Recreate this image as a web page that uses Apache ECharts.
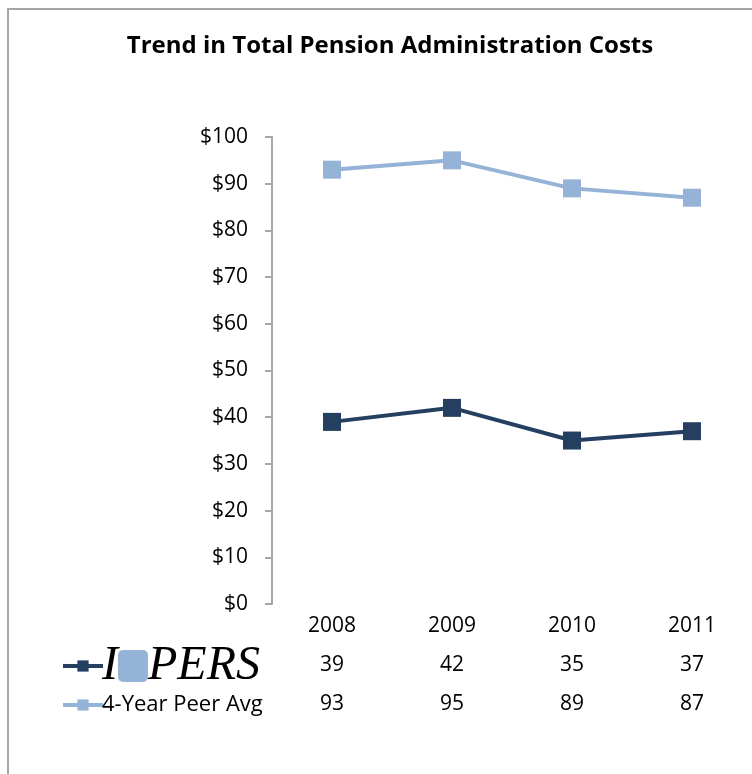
<!DOCTYPE html>
<html>
<head>
<meta charset="utf-8">
<script src="https://cdn.jsdelivr.net/npm/echarts@6/dist/echarts.min.js"></script>
<style>
  html, body { margin: 0; padding: 0; background: #fff; }
  #chart { width: 752px; height: 774px; }
</style>
</head>
<body>
<div id="chart"></div>
<script>
// chart data
const years = ['2008', '2009', '2010', '2011']
const ipersCosts = [39, 42, 35, 37]
const peerCosts = [93, 95, 89, 87]
const yTicks = [0, 10, 20, 30, 40, 50, 60, 70, 80, 90, 100]

const darkBlue = '#243F60'
const lightBlue = '#95B3D7'
const font = '"Open Sans", Lato, sans-serif'
const serif = '"Liberation Serif", "DejaVu Serif", serif'

const chart = echarts.init(document.getElementById('chart'))

// hidden x axes used as the data table rows under the plot
const tableRow = (values, offset) => ({
    type: 'category',
    gridIndex: 0,
    position: 'bottom',
    offset: offset,
    data: values.map(String),
    axisLine: { show: false },
    axisTick: { show: false },
    axisLabel: { color: '#000', fontSize: 21, fontFamily: font, margin: 12 },
})

chart.setOption({
    animation: false,
    title: {
        text: 'Trend in Total Pension Administration Costs',
        left: 385,
        top: 29,
        textAlign: 'center',
        textStyle: { fontSize: 24, fontWeight: 'bold', fontFamily: font, color: '#000' },
    },
    grid: { left: 272, top: 137, width: 484, height: 467 },
    legend: [
        {
            data: ['IPERS'],
            left: 56,
            top: 637,
            itemWidth: 40,
            itemHeight: 14,
            itemGap: 0,
            lineStyle: { width: 4 },
            formatter: () => '{i|I}{o|}{p|PERS}',
            textStyle: {
                padding: [0, 0, 0, -6],
                rich: {
                    i: { fontFamily: serif, fontStyle: 'italic', fontSize: 48, color: '#000' },
                    o: { backgroundColor: lightBlue, width: 30, height: 32, borderRadius: 5 },
                    p: { fontFamily: serif, fontStyle: 'italic', fontSize: 48, color: '#000' },
                },
            },
        },
        {
            data: ['4-Year Peer Avg'],
            left: 56,
            top: 689,
            itemWidth: 40,
            itemHeight: 14,
            lineStyle: { width: 4 },
            textStyle: { fontSize: 22, fontFamily: font, color: '#000', padding: [0, 0, 0, -6] },
        },
    ],
    xAxis: [
        {
            type: 'category',
            data: years,
            axisLine: { show: false },
            axisTick: { show: false },
            axisLabel: { color: '#000', fontSize: 21, fontFamily: font, margin: 12 },
        },
        tableRow(ipersCosts, 39),
        tableRow(peerCosts, 78),
    ],
    yAxis: {
        type: 'value',
        min: yTicks[0],
        max: yTicks[yTicks.length - 1],
        interval: 10,
        splitLine: { show: false },
        axisLine: { show: true, lineStyle: { color: '#A6A6A6', width: 2 } },
        axisTick: { show: true, length: 7, lineStyle: { color: '#A6A6A6', width: 2 } },
        axisLabel: {
            color: '#000',
            fontSize: 21,
            fontFamily: font,
            margin: 24,
            formatter: (v) => '$' + v,
        },
    },
    series: [
        {
            name: 'IPERS',
            type: 'line',
            data: ipersCosts,
            symbol: 'rect',
            symbolSize: 18,
            color: darkBlue,
            lineStyle: { width: 4, color: darkBlue },
            itemStyle: { color: darkBlue },
        },
        {
            name: '4-Year Peer Avg',
            type: 'line',
            data: peerCosts,
            symbol: 'rect',
            symbolSize: 18,
            color: lightBlue,
            lineStyle: { width: 4, color: lightBlue },
            itemStyle: { color: lightBlue },
        },
    ],
    graphic: [
        {
            type: 'rect',
            shape: { x: 8, y: 9, width: 800, height: 800 },
            style: { fill: 'none', stroke: '#A6A6A6', lineWidth: 2 },
            silent: true,
        },
    ],
})
</script>
</body>
</html>
